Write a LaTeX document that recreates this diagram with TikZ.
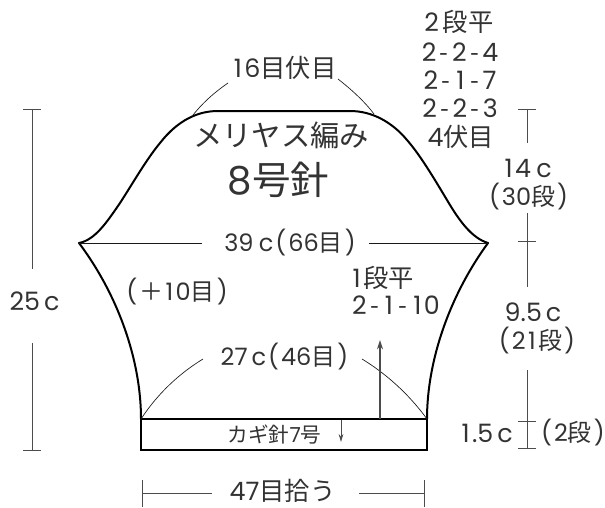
\documentclass[tikz,border=0pt]{standalone}
\usepackage{fontspec}
\usetikzlibrary{arrows.meta}
\setmainfont{Poppins}
\newfontfamily\jp{Noto Sans CJK JP}
\newcommand{\J}[1]{{\jp #1}}
\newcommand{\hy}{\kern2.6pt{\jp -}\kern2.6pt}
\newcommand{\LP}{\kern1.5pt(\kern1.5pt}
\newcommand{\RP}{\kern1.5pt)}
\newcommand{\one}{\kern1.8pt 1\kern1.8pt}
\tikzset{
  lab/.style={inner sep=0pt,font=\fontsize{19pt}{20pt}\selectfont,text=black!80},
  par/.style={inner sep=0pt,font=\fontsize{18pt}{20pt}\selectfont,text=black!80},
  big/.style={inner sep=0pt,font=\fontsize{29pt}{30pt}\selectfont,text=black!80},
  mid/.style={inner sep=0pt,font=\fontsize{22pt}{24pt}\selectfont,text=black!80},
  sm/.style={inner sep=0pt,font=\fontsize{15.5pt}{18pt}\selectfont,text=black!80},
  body/.style={line width=1.5pt,black},
  band/.style={line width=1.2pt,black},
  dim/.style={line width=0.7pt,black!70},
  thin/.style={line width=0.5pt,black!90},
}
\begin{document}
\begin{tikzpicture}[x=0.75pt,y=-0.75pt]
\useasboundingbox (0,0) rectangle (605,507);
% coordinates
\coordinate (wl) at (79,243);
\coordinate (wr) at (488,243);
\coordinate (tl) at (218,111);
\coordinate (tr) at (350,111);
\coordinate (bl) at (141,419);
\coordinate (br) at (427,419);
\coordinate (bbr) at (427,450);
% body
\draw[body,line join=round] (bl) .. controls (141,360) and (118,295) .. (wl)
  .. controls (95,240) and (107,222) .. (120,203)
  .. controls (133,183) and (146,160) .. (160,143)
  .. controls (178,120) and (198,111) .. (tl) -- (tr)
  .. controls (372,111) and (392,122) .. (407,140)
  .. controls (420,155) and (432,175) .. (447,200)
  .. controls (460,222) and (472,238) .. (wr)
  .. controls (450,295) and (427,360) .. (br);
\draw[band] (bl) rectangle (bbr);
% texts
\node[lab] (stop) at (284,68) {\one 6\J{目伏目}};
\node[lab] (a1) at (459,22) {2\kern3pt\J{段平}};
\node[lab] (a2) at (460,52) {2\hy2\hy4};
\node[lab] (a3) at (460,80) {2\hy\one\hy7};
\node[lab] (a4) at (460,108) {2\hy2\hy3};
\node[lab] (a5) at (461,137) {4\J{伏目}};
\node[mid] (kn) at (281,135) {\J{メリヤス編み}};
\node[big] (nd) at (278.5,180) {8\J{号針}};
\node[par] (w39) at (290,243) {39\kern4pt c\LP 66\J{目}\RP};
\node[lab] (t14) at (527,168) {\one 4\kern4pt c};
\node[par] (r30) at (527.5,197) {\LP 30\J{段}\RP};
\node[lab] (t25) at (34.5,301) {25\kern3pt c};
\node[par] (p10) at (176,292) {\LP\J{＋}\one 0\J{目}\RP};
\node[lab] (s1) at (382,278) {\one\J{段平}};
\node[lab] (s2) at (396,305) {2\hy\one\hy\one 0};
\node[par] (w27) at (284.5,357) {27\kern3pt c\LP 46\J{目}\RP};
\node[lab] (t95) at (533,312) {9.5\kern3pt c};
\node[par] (r21) at (536,341) {\LP 2\one\J{段}\RP};
\node[lab] (t15) at (486,433) {\one.5\kern3pt c};
\node[par] (r2) at (572,433) {\LP 2\J{段}\RP};
\node[lab] (p47) at (282.5,491) {47\J{目拾う}};
\node[sm] (hk) at (274.5,435) {\J{カギ針}7\J{号}};
% leader lines
\coordinate (s1a) at (228,83);
\coordinate (s1b) at (193,115);
\coordinate (s2a) at (338,79);
\coordinate (s2b) at (374,114);
\draw[thin] (s1a) .. controls (212,94) and (201,105) .. (s1b);
\draw[thin] (s2a) .. controls (352,90) and (365,102) .. (s2b);
\coordinate (l1) at (203,359);
\coordinate (l2) at (362,359);
\draw[thin] (l1) .. controls (180,373) and (158,393) .. (bl);
\draw[thin] (l2) .. controls (385,373) and (408,393) .. (br);
% 39c leaders
\coordinate (c1) at (202,243);
\coordinate (c2) at (369,243);
\draw[thin] (wl) -- (c1);
\draw[thin] (c2) -- (wr);
% left dim 25c
\coordinate (d1) at (32,109);
\coordinate (d2) at (32,269);
\coordinate (d3) at (32,343);
\coordinate (d4) at (32,450);
\draw[dim] (23,109) -- (41,109);
\draw[dim] (d1) -- (d2);
\draw[dim] (d3) -- (d4);
\draw[dim] (23,450) -- (41,450);
% right dim
\coordinate (e1) at (527,109);
\coordinate (e2) at (527,143);
\coordinate (e3) at (527,213);
\coordinate (e4) at (527,287);
\coordinate (e5) at (527,370);
\coordinate (e6) at (527,448);
\draw[dim] (518,109) -- (536,109);
\draw[dim] (e1) -- (e2);
\draw[dim] (e3) -- (e4);
\draw[dim] (518,241.5) -- (536,241.5);
\draw[dim] (e5) -- (e6);
\draw[dim] (518,421) -- (536,421);
\draw[dim] (518,448) -- (536,448);
% bottom dim
\coordinate (f1) at (142,493);
\coordinate (f2) at (212,493);
\coordinate (f3) at (359,493);
\coordinate (f4) at (424,493);
\draw[dim] (f1) -- (f2);
\draw[dim] (f3) -- (f4);
\draw[dim] (142,480) -- (142,507);
\draw[dim] (424,480) -- (424,507);
% arrows
\coordinate (g1) at (380,419);
\coordinate (g2) at (380,340);
\draw[dim,line width=0.9pt,-{Stealth[length=7pt,width=4.5pt]}] (g1) -- (g2);
\coordinate (h1) at (341,420);
\coordinate (h2) at (341,442);
\draw[dim,-{Stealth[length=6pt,width=3.5pt]}] (h1) -- (h2);
\end{tikzpicture}
\end{document}
